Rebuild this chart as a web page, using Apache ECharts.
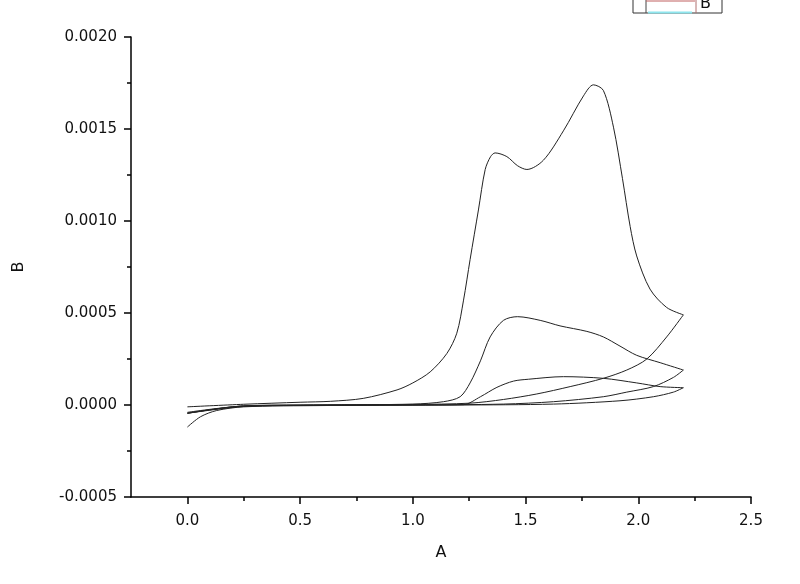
<!DOCTYPE html>
<html>
<head>
<meta charset="utf-8">
<script src="https://cdn.jsdelivr.net/npm/echarts@6/dist/echarts.min.js"></script>
<style>
  html, body { margin: 0; padding: 0; background: #fff; }
  #chart { width: 800px; height: 584px; }
</style>
</head>
<body>
<div id="chart"></div>
<script>
// tick labels
const xLabelValues = [0, 0.5, 1.0, 1.5, 2.0, 2.5]
const xMinorValues = [0.25, 0.75, 1.25, 1.75, 2.25]

// scan 1, forward sweep (big double peak)
const scan1Fwd = [
  [0, -0.00001], [0.25, 0.000004], [0.5, 0.000015], [0.634, 0.00002], [0.78, 0.000036],
  [0.93, 0.000082], [1.0, 0.00012], [1.077, 0.00018], [1.151, 0.00028], [1.195, 0.00039],
  [1.225, 0.00057], [1.254, 0.00079], [1.291, 0.00106], [1.321, 0.00128], [1.345, 0.00135],
  [1.365, 0.00137], [1.417, 0.00135], [1.465, 0.0013], [1.506, 0.00128], [1.579, 0.00133],
  [1.668, 0.00149], [1.757, 0.00168], [1.801, 0.00174], [1.845, 0.00171], [1.89, 0.00151],
  [1.93, 0.00123], [1.964, 0.00097], [1.993, 0.00081], [2.052, 0.00063], [2.126, 0.00053],
  [2.2, 0.00049]
]
// scan 1, reverse sweep
const scan1Rev = [
  [2.2, 0.00049], [2.126, 0.00037], [2.038, 0.00025], [1.949, 0.00019], [1.845, 0.000145],
  [1.698, 0.0001], [1.55, 0.00006], [1.402, 0.00003], [1.254, 0.00001], [1.0, 0.000003],
  [0.5, 0], [0.25, -0.000005], [0, -0.000045]
]
// scan 2, forward sweep
const scan2Fwd = [
  [0, -0.000045], [0.25, -0.000005], [0.6, 0], [1.0, 0.000005], [1.136, 0.000018],
  [1.21, 0.000045], [1.254, 0.00012], [1.3, 0.00024], [1.343, 0.00037], [1.402, 0.00046],
  [1.465, 0.00048], [1.565, 0.00046], [1.653, 0.00043], [1.772, 0.0004], [1.845, 0.00037],
  [1.919, 0.00032], [1.993, 0.00027], [2.097, 0.00023], [2.2, 0.00019]
]
// scan 2, reverse sweep
const scan2Rev = [
  [2.2, 0.00019], [2.156, 0.00015], [2.067, 0.0001], [1.949, 0.00007], [1.845, 0.000045],
  [1.624, 0.000018], [1.402, 0.000005], [1.0, 0], [0.5, -0.000002], [0.25, -0.000008],
  [0, -0.000045]
]
// scan 3, forward sweep
const scan3Fwd = [
  [0, -0.00012], [0.058, -0.000064], [0.13, -0.00003], [0.25, -0.00001], [0.6, -0.000003],
  [1.0, 0], [1.225, 0.000002], [1.3, 0.000045], [1.373, 0.000096], [1.447, 0.00013],
  [1.513, 0.00014], [1.668, 0.000154], [1.845, 0.000145], [1.993, 0.00012], [2.097, 0.0001],
  [2.2, 0.000094]
]
// scan 3, reverse sweep
const scan3Rev = [
  [2.2, 0.000094], [2.156, 0.00007], [2.067, 0.000045], [1.919, 0.000023], [1.624, 0.000005],
  [1.2, 0], [0.6, -0.000002], [0.25, -0.000006], [0, -0.00004]
]

const scans = [scan1Fwd, scan1Rev, scan2Fwd, scan2Rev, scan3Fwd, scan3Rev]
const font = '"DejaVu Sans", Arial, sans-serif'
const axisText = { color: '#111', fontSize: 15, fontFamily: font }

const chart = echarts.init(document.getElementById('chart'))
chart.setOption({
  backgroundColor: '#fff',
  animation: false,
  grid: { left: 131, right: 49, top: 37, bottom: 87, outerBoundsMode: 'none' },
  xAxis: [{
    type: 'value',
    min: -0.25,
    max: 2.5,
    interval: 0.25,
    name: 'A',
    nameLocation: 'middle',
    nameGap: 48,
    nameTextStyle: { ...axisText, fontSize: 16 },
    axisLine: { onZero: false, lineStyle: { color: '#000', width: 1.5 } },
    axisTick: { customValues: xLabelValues, length: 7, lineStyle: { color: '#000', width: 1.5 } },
    axisLabel: { customValues: xLabelValues, margin: 17, ...axisText, formatter: v => v.toFixed(1) },
    splitLine: { show: false }
  }, {
    type: 'value',
    min: -0.25,
    max: 2.5,
    position: 'bottom',
    axisLine: { show: false, onZero: false },
    axisTick: { customValues: xMinorValues, length: 4, lineStyle: { color: '#000', width: 1.5 } },
    axisLabel: { show: false },
    splitLine: { show: false }
  }],
  yAxis: {
    type: 'value',
    min: -0.0005,
    max: 0.002,
    interval: 0.0005,
    name: 'B',
    nameLocation: 'middle',
    nameGap: 104,
    nameTextStyle: { ...axisText, fontSize: 16 },
    axisLine: { onZero: false, lineStyle: { color: '#000', width: 1.5 } },
    axisTick: { length: 7, lineStyle: { color: '#000', width: 1.5 } },
    minorTick: { show: true, splitNumber: 2, length: 4, lineStyle: { color: '#000', width: 1.5 } },
    axisLabel: { margin: 14, ...axisText, formatter: v => v.toFixed(4) },
    splitLine: { show: false }
  },
  series: scans.map(d => ({
    type: 'line',
    data: d,
    xAxisIndex: 0,
    smooth: 0.3,
    showSymbol: false,
    lineStyle: { color: '#222', width: 1 }
  })),
  // clipped legend box at the top edge
  graphic: [
    { type: 'rect', shape: { x: 633, y: -12, width: 89, height: 25 }, style: { fill: '#fff', stroke: '#333', lineWidth: 1 } },
    { type: 'line', shape: { x1: 646, y1: -12, x2: 646, y2: 13 }, style: { stroke: '#444', lineWidth: 1 } },
    { type: 'line', shape: { x1: 696, y1: -12, x2: 696, y2: 13 }, style: { stroke: '#b07070', lineWidth: 1 } },
    { type: 'line', shape: { x1: 646, y1: 1, x2: 695, y2: 1 }, style: { stroke: '#c06060', lineWidth: 1 } },
    { type: 'line', shape: { x1: 648, y1: 12.5, x2: 692, y2: 12.5 }, style: { stroke: '#8ee6ee', lineWidth: 2 } },
    { type: 'text', x: 700, y: -4, style: { text: 'B', font: '16px ' + font, fill: '#111' } }
  ]
})
</script>
</body>
</html>
